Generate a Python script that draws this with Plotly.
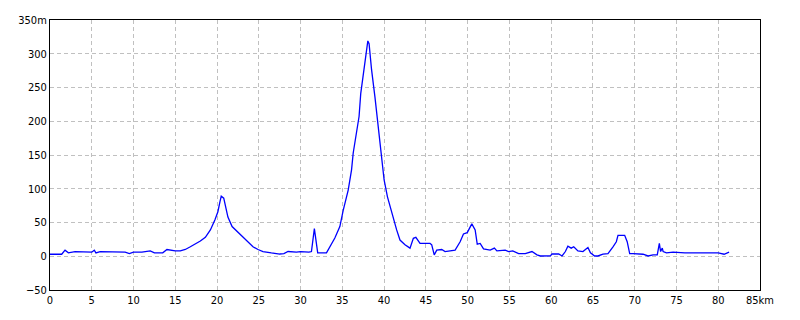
import plotly.graph_objects as go

km = [0.0, 1.4, 1.8, 2.2, 3.0, 4.0, 5.0, 5.3, 5.5, 6.0, 7.0, 8.0, 9.0, 9.5, 10.0, 11.0, 11.5, 12.0, 12.5,
      13.5, 14.0, 14.5, 15.0, 15.6, 16.2, 16.8, 17.4, 18.0, 18.6, 19.2, 19.75, 20.1, 20.35, 20.5, 20.8,
      21.1, 21.3, 21.8, 22.5, 23.1, 23.7, 24.3, 24.9, 25.5, 26.5, 27.5, 28.0, 28.5, 29.5, 30.0, 31.0,
      31.3, 31.65, 32.05, 33.1, 33.5, 34.1, 34.7, 35.1, 35.7, 36.1, 36.3, 36.7, 37.0, 37.2, 37.5, 37.8,
      38.05, 38.2, 38.5, 38.9, 39.2, 39.5, 39.7, 40.0, 40.4, 40.9, 41.5, 41.9, 42.5, 43.1, 43.5, 43.8,
      44.3, 45.5, 45.7, 46.0, 46.3, 46.9, 47.3, 48.5, 49.1, 49.5, 49.95, 50.5, 50.9, 51.15, 51.5, 51.9,
      52.7, 53.2, 53.5, 54.5, 54.9, 55.4, 56.1, 56.9, 57.7, 58.3, 58.7, 59.9, 60.1, 60.9, 61.3, 61.7,
      62.0, 62.4, 62.7, 63.2, 63.8, 64.4, 64.7, 65.2, 65.6, 66.2, 66.8, 67.4, 67.8, 68.0, 68.8, 69.1,
      69.4, 69.8, 70.2, 71.0, 71.6, 72.2, 72.7, 72.85, 72.95, 73.1, 73.3, 73.4, 73.8, 74.6, 76.0, 78.0,
      80.0, 80.7, 81.0, 81.3]
elev = [3, 3, 9, 5, 7, 6, 6, 9, 5, 7, 7, 6, 6, 4, 6, 6, 7, 8, 5,
        5, 10, 9, 8, 8, 10, 14, 18, 22.5, 28, 39, 54, 66, 81, 89, 86,
        71, 58, 44, 36, 29, 21.5, 14, 10, 7, 5, 3.3, 4, 7, 6, 7, 6,
        7, 41, 5, 5, 14, 27, 44, 68, 98, 128, 153, 187, 207, 241, 266, 296,
        319, 315, 276, 236, 202, 167, 138, 113, 88, 64, 39, 24, 17, 12, 26.5, 28,
        19, 19, 17, 2, 9, 10, 7, 9, 21.5, 33, 35, 48, 39, 18, 19, 11,
        9, 12, 8, 9, 7, 8, 4, 4, 7, 2, 0.4, 0.5, 3.3, 3.3, 0.4, 7,
        15, 12, 14, 8, 7, 13, 5, 0.4, 0.4, 3.3, 4, 14, 21.5, 31, 31, 21.5,
        4, 4, 4, 3, 0.4, 2, 2, 10, 19, 7, 12, 7, 5, 6, 5, 5,
        5, 3, 5, 6]

x_ticks = list(range(0, 90, 5))
x_labels = [str(v) for v in x_ticks[:-1]] + ["85km"]
y_ticks = list(range(-50, 400, 50))
y_labels = ["\u221250" if v < 0 else str(v) for v in y_ticks[:-1]] + ["350m"]

font_family = "DejaVu Sans Condensed, Liberation Sans Narrow, Noto Sans CJK JP, sans-serif"

fig = go.Figure()
fig.add_trace(go.Scatter(x=km, y=elev, mode="lines",
                         line=dict(color="#0000ff", width=1.3),
                         hoverinfo="skip", showlegend=False))

axis_common = dict(showline=True, linecolor="black", linewidth=1, mirror=True,
                   showgrid=True, gridcolor="#c0c0c0", gridwidth=1, griddash="4px,3px",
                   zeroline=False, ticks="", fixedrange=True,
                   tickfont=dict(family=font_family, size=11, color="black"))

fig.update_xaxes(range=[0, 85], tickvals=x_ticks, ticktext=x_labels, **axis_common)
fig.update_yaxes(range=[-50, 350], tickvals=y_ticks, ticktext=y_labels, **axis_common)

fig.update_layout(width=800, height=320,
                  margin=dict(l=50, r=40, t=20, b=30),
                  paper_bgcolor="white", plot_bgcolor="white",
                  font=dict(family=font_family, size=11, color="black"))

fig.write_html("out.html")
